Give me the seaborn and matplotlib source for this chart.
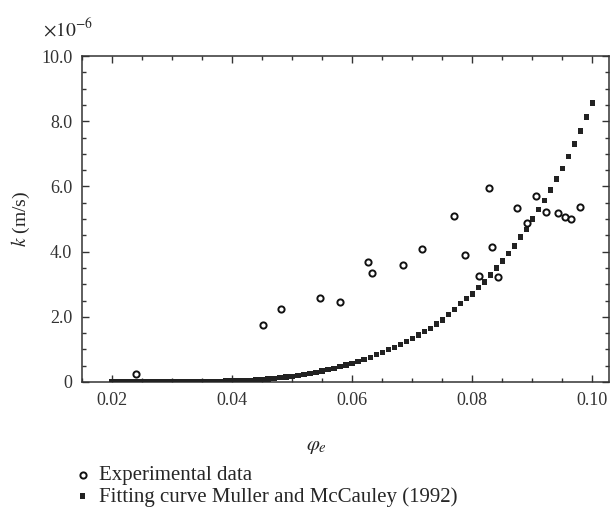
import numpy as np
import pandas as pd
import matplotlib
matplotlib.use('Agg')
import matplotlib.pyplot as plt
from matplotlib.ticker import MultipleLocator, FuncFormatter
import seaborn as sns

# 实验数据（单位 ×1e-6 m/s）
exp_phi = [0.0240, 0.0452, 0.0482, 0.0547, 0.0580, 0.0627, 0.0633, 0.0685,
           0.0717, 0.0770, 0.0788, 0.0812, 0.0828, 0.0833, 0.0843, 0.0875,
           0.0892, 0.0907, 0.0923, 0.0943, 0.0955, 0.0965, 0.0980]
exp_k = [0.25, 1.75, 2.24, 2.59, 2.45, 3.68, 3.34, 3.59,
         4.08, 5.09, 3.90, 3.25, 5.95, 4.14, 3.22, 5.34,
         4.88, 5.70, 5.21, 5.18, 5.06, 5.00, 5.37]

# 拟合曲线 Muller and McCauley (1992)，φ 从 0.020 到 0.100，步长 0.001
fit_phi = [round(0.020 + 0.001 * i, 3) for i in range(81)]
fit_k = [0.00, 0.00, 0.00, 0.00, 0.00, 0.00, 0.00, 0.00, 0.00, 0.00,
         0.01, 0.01, 0.01, 0.01, 0.01, 0.01, 0.02, 0.02, 0.02, 0.03,
         0.03, 0.04, 0.04, 0.05, 0.06, 0.08, 0.09, 0.11, 0.13, 0.15,
         0.18, 0.21, 0.24, 0.27, 0.30, 0.34, 0.38, 0.42, 0.47, 0.52,
         0.57, 0.63, 0.70, 0.76, 0.84, 0.91, 0.99, 1.07, 1.16, 1.24,
         1.34, 1.44, 1.54, 1.65, 1.78, 1.90, 2.06, 2.22, 2.40, 2.55,
         2.70, 2.91, 3.07, 3.28, 3.50, 3.71, 3.93, 4.17, 4.45, 4.69,
         5.00, 5.28, 5.58, 5.89, 6.23, 6.56, 6.93, 7.30, 7.70, 8.13,
         8.56]

x_ticks = [0.02, 0.04, 0.06, 0.08, 0.10]
y_ticks = [0, 2, 4, 6, 8, 10]

sns.set_style('ticks')
plt.rcParams['font.family'] = ['Liberation Serif', 'DejaVu Serif']
plt.rcParams['mathtext.fontset'] = 'stix'
plt.rcParams['axes.edgecolor'] = '#333333'
plt.rcParams['xtick.color'] = '#333333'
plt.rcParams['ytick.color'] = '#333333'

df_exp = pd.DataFrame({'phi': exp_phi, 'k': exp_k})
df_fit = pd.DataFrame({'phi': fit_phi, 'k': fit_k})

fig = plt.figure(figsize=(6.11, 5.19), dpi=100)
ax = fig.add_axes([0.1342, 0.264, 0.8625, 0.628])

sns.scatterplot(data=df_fit, x='phi', y='k', ax=ax, marker='s', s=14,
                color='#222222', edgecolor='none', linewidth=0,
                label='Fitting curve Muller and McCauley (1992)', zorder=3)
sns.scatterplot(data=df_exp, x='phi', y='k', ax=ax, marker='o', s=20,
                facecolor='white', edgecolor='#111111', linewidth=1.4,
                label='Experimental data', zorder=4)

ax.set_xlim(0.015, 0.1028)
ax.set_ylim(0, 10.0)
ax.set_xticks(x_ticks)
ax.set_yticks(y_ticks)
ax.xaxis.set_minor_locator(MultipleLocator(0.005))
ax.yaxis.set_minor_locator(MultipleLocator(0.5))
ax.xaxis.set_major_formatter(FuncFormatter(lambda v, p: f'{v:.2f}'))
ax.yaxis.set_major_formatter(FuncFormatter(lambda v, p: '0' if v == 0 else f'{v:.1f}'))
ax.tick_params(which='both', direction='in', top=True, right=True,
               labelsize=13, width=1, pad=7)
ax.tick_params(which='major', length=5)
ax.tick_params(which='minor', length=3)
for sp in ax.spines.values():
    sp.set_linewidth(1.1)

ax.set_xlabel(r'$\varphi_e$', fontsize=15)
ax.xaxis.set_label_coords(0.445, -0.17)
ax.set_ylabel(r'$k$ (m/s)', fontsize=14)
ax.yaxis.set_label_coords(-0.095, 0.5)

fig.text(0.07, 0.945, r'$\times10^{-6}$', fontsize=14, ha='left', va='center')

handles, labels = ax.get_legend_handles_labels()
ax.legend(handles[::-1], labels[::-1], loc='upper left',
          bbox_to_anchor=(0.118, 0.103), bbox_transform=fig.transFigure,
          frameon=False, fontsize=15, handletextpad=0.3, labelspacing=0.08,
          handlelength=1.0, borderaxespad=0, borderpad=0)

fig.savefig('out.png', dpi=100)
